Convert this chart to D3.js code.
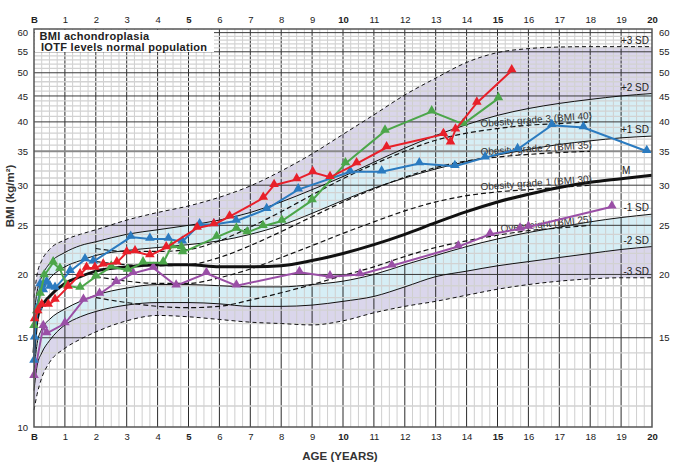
<!DOCTYPE html>
<html>
<head>
<meta charset="utf-8">
<script src="https://cdn.jsdelivr.net/npm/d3@7"></script>
<style>
body { margin: 0; background: #fff; }
svg { font-family: "Liberation Sans", Arial, sans-serif; }
</style>
</head>
<body>
<svg id="chart" width="676" height="469"></svg>
<script>
// reference curves (BMI achondroplasia)
var refAges  = [0, 0.1, 0.25, 0.5, 1, 1.5, 2, 3, 4, 5, 6, 7, 8, 9, 10, 11, 12, 13, 14, 15, 16, 17, 18, 19, 20];
var sdPlus3  = [18.0, 20.0, 21.3, 22.4, 23.4, 24.0, 24.5, 25.6, 26.5, 27.3, 28.4, 29.9, 32.0, 34.6, 37.8, 41.3, 45.2, 48.8, 52.4, 54.8, 55.8, 56.2, 56.3, 56.3, 56.3];
var sdPlus2  = [16.6, 18.5, 19.8, 21.0, 22.1, 22.8, 23.2, 24.0, 24.5, 25.0, 25.6, 26.5, 27.8, 29.4, 31.2, 33.3, 35.5, 37.6, 39.5, 41.2, 42.5, 43.5, 44.3, 45.0, 45.5];
var sdPlus1  = [15.3, 17.4, 18.6, 19.6, 20.7, 21.3, 21.8, 22.3, 22.6, 22.9, 23.3, 24.0, 25.0, 26.4, 28.0, 29.6, 31.0, 32.3, 33.4, 34.4, 35.3, 36.1, 36.7, 37.2, 37.5];
var sdMedian = [14.0, 16.3, 17.3, 18.1, 19.2, 19.8, 20.3, 20.7, 20.9, 20.9, 20.7, 20.7, 20.8, 21.3, 22.0, 22.9, 24.0, 25.3, 26.6, 27.8, 28.8, 29.7, 30.4, 30.9, 31.4];
var sdMinus1 = [12.8, 14.6, 15.6, 16.3, 17.1, 17.7, 18.2, 18.8, 19.1, 19.1, 19.0, 18.9, 18.9, 19.1, 19.4, 20.0, 20.9, 21.8, 22.7, 23.5, 24.2, 24.8, 25.4, 25.9, 26.3];
var sdMinus2 = [11.8, 13.2, 14.0, 14.8, 15.9, 16.5, 16.9, 17.4, 17.6, 17.6, 17.5, 17.3, 17.3, 17.4, 17.7, 18.1, 18.9, 19.8, 20.3, 20.8, 21.2, 21.6, 22.0, 22.4, 22.7];
var sdMinus3 = [10.8, 11.6, 12.5, 13.4, 14.3, 14.9, 15.4, 16.2, 16.6, 16.5, 16.3, 16.1, 16.0, 15.9, 16.2, 16.8, 17.3, 17.7, 18.2, 18.7, 19.1, 19.4, 19.6, 19.7, 19.7];
var sdNames  = ["+3 SD", "+2 SD", "+1 SD", "M", "-1 SD", "-2 SD", "-3 SD"];

// IOTF cut-offs, normal population
var iotfAges       = [2, 3, 4, 5, 6, 7, 8, 9, 10, 11, 12, 13, 14, 15, 16, 17, 18];
var iotfOverweight = [18.0, 17.6, 17.3, 17.2, 17.3, 17.8, 18.4, 19.1, 19.9, 20.7, 21.7, 22.6, 23.3, 23.9, 24.4, 24.7, 25.0];
var iotfObesity1   = [19.8, 19.4, 19.2, 19.2, 19.7, 20.5, 21.6, 22.8, 24.1, 25.4, 26.7, 27.8, 28.6, 29.1, 29.4, 29.7, 30.0];
var iotfObesity2   = [21.2, 20.9, 20.8, 20.9, 21.6, 22.8, 24.3, 26.0, 27.8, 29.5, 31.1, 32.5, 33.5, 34.1, 34.5, 34.8, 35.0];
var iotfObesity3   = [22.5, 22.2, 22.2, 22.4, 23.3, 24.8, 26.6, 28.7, 30.9, 33.0, 35.0, 36.8, 38.0, 38.8, 39.4, 39.7, 40.0];
var iotfNames = ["Overweight (BMI 25)", "Obesity grade 1 (BMI 30)", "Obesity grade 2 (BMI 35)", "Obesity grade 3 (BMI 40)"];

// patients: [age, bmi]
var patientPurple = [[0, 12.6], [0.3, 15.8], [0.41, 15.3], [1.0, 16.0], [1.6, 17.8], [2.12, 18.3], [2.66, 19.3], [3.2, 20.1], [3.86, 20.6], [4.6, 19.0], [5.58, 20.1], [6.55, 19.0], [8.59, 20.2], [9.58, 19.8], [10.55, 20.0], [11.58, 20.8], [13.73, 22.7], [14.76, 24.0], [15.73, 24.6], [16.0, 24.8], [18.7, 27.2]];
var patientBlue = [[0, 13.5], [0.02, 15.0], [0.12, 17.2], [0.2, 19.1], [0.3, 18.6], [0.41, 19.3], [0.52, 18.9], [0.68, 18.8], [1.17, 20.3], [1.65, 21.4], [1.92, 21.2], [3.13, 23.7], [3.75, 23.5], [4.35, 23.5], [4.8, 23.2], [5.36, 25.1], [5.82, 25.1], [6.54, 25.5], [7.53, 26.9], [8.55, 29.4], [10.23, 31.9], [11.25, 31.9], [12.47, 33.1], [13.62, 32.7], [14.6, 34.0], [15.65, 35.3], [16.76, 39.4], [17.78, 39.0], [19.83, 35.0]];
var patientGreen = [[0, 15.8], [0.09, 16.9], [0.2, 18.3], [0.33, 19.9], [0.62, 21.1], [0.84, 20.5], [1.06, 19.0], [1.49, 18.8], [2.0, 19.8], [2.5, 20.7], [3.03, 20.4], [3.53, 21.1], [4.18, 21.1], [4.45, 22.7], [4.77, 22.6], [4.81, 22.1], [5.91, 23.7], [6.55, 24.6], [6.9, 24.2], [7.41, 24.9], [8.02, 25.5], [9.0, 28.0], [10.08, 33.1], [11.36, 38.4], [12.87, 41.9], [13.89, 39.6], [15.03, 44.5]];
var patientRed = [[0.02, 16.3], [0.12, 16.9], [0.25, 17.4], [0.46, 17.4], [0.68, 17.8], [1.1, 18.9], [1.49, 20.0], [1.7, 20.6], [1.97, 20.6], [2.24, 20.9], [2.68, 21.1], [3.0, 22.1], [3.27, 22.2], [3.75, 21.8], [4.28, 22.6], [5.28, 24.7], [5.82, 25.1], [6.33, 26.0], [7.42, 28.3], [7.77, 30.0], [8.5, 30.8], [9.02, 31.8], [9.58, 31.1], [10.44, 33.1], [11.41, 35.6], [13.25, 37.8], [13.48, 36.4], [13.64, 38.6], [14.33, 43.6], [15.46, 50.5]];

var ageTicks = d3.range(0, 21);
var bmiTicksLeft = [10, 15, 20, 25, 30, 35, 40, 45, 50, 55, 60];
var bmiTicksRight = [15, 20, 25, 30, 35, 40, 45, 50, 55, 60];

var svg = d3.select('#chart');
var x = d3.scaleLinear().domain([0, 20]).range([34, 652]);
var y = d3.scaleLog().domain([10, 61]).range([427, 29]);

function zip(ages, values) {
	return ages.map(function(a, i) { return [a, values[i]]; });
}

var line = d3.line()
	.x(function(d) { return x(d[0]); })
	.y(function(d) { return y(d[1]); })
	.curve(d3.curveMonotoneX);

var band = d3.area()
	.x(function(d) { return x(d.age); })
	.y0(function(d) { return y(d.lo); })
	.y1(function(d) { return y(d.hi); })
	.curve(d3.curveMonotoneX);

function bandData(lo, hi) {
	return refAges.map(function(a, i) { return {age : a, lo : lo[i], hi : hi[i]}; });
}

var plot = svg.append('g');

// shaded bands
var purple = '#dad6eb', cyan = '#d6eef5';
[[sdPlus2, sdPlus3, purple], [sdPlus1, sdPlus2, cyan], [sdMinus2, sdMinus1, cyan], [sdMinus3, sdMinus2, purple]].forEach(function(b) {
	plot.append('path').attr('d', band(bandData(b[0], b[1]))).attr('fill', b[2]);
});

// grid
var minorX = d3.range(0, 20.01, 0.25).filter(function(v) { return v % 1 !== 0; });
var minorY = d3.range(11, 61).filter(function(v) { return v % 5 !== 0; });
var majorY = [15, 20, 25, 30, 40, 45, 50, 55, 60];

plot.selectAll('.minor-x').data(minorX).enter().append('line')
	.attr('x1', x).attr('x2', x).attr('y1', y(61)).attr('y2', y(10))
	.attr('stroke', '#cfcfcf').attr('stroke-width', 1);
plot.selectAll('.major-x').data(d3.range(1, 20)).enter().append('line')
	.attr('x1', x).attr('x2', x).attr('y1', y(61)).attr('y2', y(10))
	.attr('stroke', '#2a2a2a').attr('stroke-width', 1);
plot.selectAll('.minor-y').data(minorY).enter().append('line')
	.attr('x1', x(0)).attr('x2', x(20)).attr('y1', y).attr('y2', y)
	.attr('stroke', '#d2d2d2').attr('stroke-width', 1.3);
plot.selectAll('.major-y').data(majorY).enter().append('line')
	.attr('x1', x(0)).attr('x2', x(20)).attr('y1', y).attr('y2', y)
	.attr('stroke', '#3a3a3a').attr('stroke-width', 1);
plot.append('line')
	.attr('x1', x(0)).attr('x2', x(20)).attr('y1', y(35)).attr('y2', y(35))
	.attr('stroke', '#8a8a8a').attr('stroke-width', 2.2);

// SD curves
var sdCurves = [sdPlus3, sdPlus2, sdPlus1, sdMedian, sdMinus1, sdMinus2, sdMinus3];
sdCurves.forEach(function(values, i) {
	var dashed = (i === 0 || i === 6);
	plot.append('path')
		.attr('d', line(zip(refAges, values)))
		.attr('fill', 'none')
		.attr('stroke', '#111')
		.attr('stroke-width', i === 3 ? 3 : 1)
		.attr('stroke-dasharray', dashed ? '4,3' : null);

	var last = values[values.length - 1];
	var lx = i === 3 ? x(19.3) : x(20) - 3;
	var ly = i === 3 ? y(30.9) - 5 : y(last) - 3;
	plot.append('text')
		.attr('x', lx).attr('y', ly)
		.attr('text-anchor', 'end')
		.attr('font-size', 10)
		.attr('fill', '#222')
		.text(sdNames[i]);
});

// IOTF curves
[iotfOverweight, iotfObesity1, iotfObesity2, iotfObesity3].forEach(function(values, i) {
	plot.append('path')
		.attr('d', line(zip(iotfAges, values)))
		.attr('fill', 'none')
		.attr('stroke', '#111')
		.attr('stroke-width', 1.2)
		.attr('stroke-dasharray', '5,3');

	var n = values.length;
	var x1 = x(iotfAges[n - 4]), y1 = y(values[n - 4]);
	var x2 = x(iotfAges[n - 1]), y2 = y(values[n - 1]);
	var angle = Math.atan2(y2 - y1, x2 - x1) * 180 / Math.PI;
	plot.append('text')
		.attr('transform', 'translate(' + (x2 + 2) + ',' + (y2 - 3) + ') rotate(' + angle + ')')
		.attr('text-anchor', 'end')
		.attr('font-size', 10)
		.attr('fill', '#333')
		.text(iotfNames[i]);
});

// patients
var triangle = d3.symbol().type(d3.symbolTriangle).size(40);
var straight = d3.line()
	.x(function(d) { return x(d[0]); })
	.y(function(d) { return y(d[1]); });

[[patientPurple, '#9a4fa6'], [patientBlue, '#2b7bc0'], [patientGreen, '#4ca64a'], [patientRed, '#e8202a']].forEach(function(p) {
	var g = plot.append('g');
	g.append('path')
		.attr('d', straight(p[0]))
		.attr('fill', 'none')
		.attr('stroke', p[1])
		.attr('stroke-width', 2);
	g.selectAll('path.pt').data(p[0]).enter().append('path')
		.attr('class', 'pt')
		.attr('d', triangle)
		.attr('transform', function(d) { return 'translate(' + x(d[0]) + ',' + (y(d[1]) - 1) + ')'; })
		.attr('fill', p[1]);
});

// title box
svg.append('rect')
	.attr('x', x(0) + 1).attr('y', y(61) + 1).attr('width', 179).attr('height', 22)
	.attr('fill', '#fff');
svg.append('text').attr('x', 39.5).attr('y', 39.5)
	.attr('font-size', 11).attr('font-weight', 'bold').attr('letter-spacing', 0.3).attr('fill', '#222')
	.text('BMI achondroplasia');
svg.append('text').attr('x', 41).attr('y', 50.5)
	.attr('font-size', 11).attr('font-weight', 'bold').attr('letter-spacing', 0.3).attr('fill', '#222')
	.text('IOTF levels normal population');

// plot border
svg.append('rect')
	.attr('x', x(0)).attr('y', y(61)).attr('width', x(20) - x(0)).attr('height', y(10) - y(61))
	.attr('fill', 'none').attr('stroke', '#555').attr('stroke-width', 1.5);

// axes
function ageLabel(d) { return d === 0 ? 'B' : d; }
function styleAxis(g) {
	g.select('.domain').remove();
	g.selectAll('.tick line').remove();
	g.selectAll('text')
		.attr('font-family', '"Liberation Sans", Arial, sans-serif')
		.attr('font-size', 9.5)
		.attr('fill', '#222');
}
function boldYears(g) {
	g.selectAll('text').attr('font-weight', function(d) { return d % 5 === 0 ? 'bold' : null; });
}

svg.append('g').attr('transform', 'translate(0,' + (y(61) - 3) + ')')
	.call(d3.axisTop(x).tickValues(ageTicks).tickFormat(ageLabel).tickSize(0))
	.call(styleAxis).call(boldYears);
svg.append('g').attr('transform', 'translate(0,' + (y(10) + 3) + ')')
	.call(d3.axisBottom(x).tickValues(ageTicks).tickFormat(ageLabel).tickSize(0))
	.call(styleAxis).call(boldYears);
svg.append('g').attr('transform', 'translate(' + (x(0) - 3) + ',0)')
	.call(d3.axisLeft(y).tickValues(bmiTicksLeft).tickFormat(d3.format('d')).tickSize(0))
	.call(styleAxis);
svg.append('g').attr('transform', 'translate(' + (x(20) + 4) + ',0)')
	.call(d3.axisRight(y).tickValues(bmiTicksRight).tickFormat(d3.format('d')).tickSize(0))
	.call(styleAxis);

// axis titles
svg.append('text')
	.attr('x', 340).attr('y', 460)
	.attr('text-anchor', 'middle')
	.attr('font-size', 11.5).attr('font-weight', 'bold').attr('fill', '#333')
	.text('AGE (YEARS)');
svg.append('text')
	.attr('transform', 'translate(14,196) rotate(-90)')
	.attr('text-anchor', 'middle')
	.attr('font-size', 11.5).attr('font-weight', 'bold').attr('fill', '#333')
	.text('BMI (kg/m²)');
</script>
</body>
</html>
